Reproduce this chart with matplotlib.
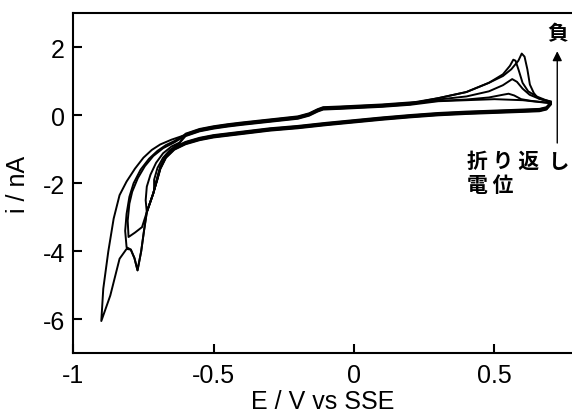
import numpy as np
import matplotlib.pyplot as plt

# フォント設定
plt.rcParams['font.family'] = ['Liberation Sans', 'DejaVu Sans']
plt.rcParams['axes.unicode_minus'] = False

# 1. データ (E / V vs SSE, i / nA) — 図から読み取った値
# ==========================================================
# 共通部分: 正側 0.70 V から負方向への掃引
cath_x = [0.70, 0.685, 0.66, 0.60, 0.50, 0.40, 0.30, 0.20, 0.10, 0.00, -0.10, -0.20,
          -0.30, -0.40, -0.50, -0.55, -0.60, -0.64, -0.67, -0.69, -0.70]
cath_y = [0.34, 0.20, 0.15, 0.13, 0.10, 0.07, 0.03, -0.03, -0.10, -0.18, -0.26, -0.35,
          -0.42, -0.52, -0.62, -0.70, -0.82, -0.98, -1.22, -1.55, -1.85]

# 共通部分: 正方向への掃引 (-0.60 V → 0.20 V)
an_x = [-0.60, -0.55, -0.50, -0.45, -0.40, -0.30, -0.20, -0.16, -0.13, -0.11, -0.05, 0.00, 0.10, 0.20]
an_y = [-0.58, -0.44, -0.36, -0.30, -0.25, -0.16, -0.07, 0.02, 0.14, 0.20, 0.22, 0.24, 0.28, 0.34]

# 各曲線の折り返し付近 (負側): 折り返しまで + 戻り
neg_x = [
    [-0.715, -0.738, -0.748, -0.758, -0.771, -0.782, -0.795, -0.81, -0.835, -0.868, -0.90,
     -0.893, -0.875, -0.856, -0.835, -0.81, -0.78, -0.75, -0.72, -0.69, -0.65],
    [-0.715, -0.738, -0.748, -0.758, -0.771, -0.782, -0.795, -0.81,
     -0.815, -0.81, -0.80, -0.785, -0.76, -0.73, -0.70, -0.67, -0.64],
    [-0.715, -0.738, -0.755, -0.78, -0.803,
     -0.806, -0.80, -0.79, -0.77, -0.745, -0.715, -0.68, -0.64],
    [-0.715, -0.738,
     -0.742, -0.738, -0.725, -0.705, -0.68, -0.65, -0.62],
    [-0.712,
     -0.712, -0.70, -0.68, -0.655, -0.625],
]
neg_y = [
    [-2.30, -2.85, -3.40, -4.00, -4.56, -4.20, -3.95, -3.93, -4.22, -5.30, -6.05,
     -5.10, -4.00, -3.04, -2.35, -1.95, -1.57, -1.25, -1.02, -0.86, -0.72],
    [-2.30, -2.85, -3.40, -4.00, -4.56, -4.20, -3.95, -3.88,
     -3.40, -2.90, -2.40, -2.00, -1.60, -1.28, -1.05, -0.88, -0.76],
    [-2.30, -2.85, -3.29, -3.45, -3.58,
     -3.10, -2.60, -2.25, -1.85, -1.50, -1.20, -0.97, -0.80],
    [-2.30, -2.85,
     -2.50, -2.10, -1.75, -1.40, -1.12, -0.92, -0.80],
    [-2.20,
     -1.90, -1.55, -1.25, -1.02, -0.85],
]

# 各曲線の酸化ピーク付近 (正側)
pos_x = [
    [0.30, 0.40, 0.48, 0.53, 0.56, 0.585, 0.597, 0.607, 0.617, 0.626, 0.64, 0.655, 0.68, 0.70],
    [0.30, 0.40, 0.48, 0.53, 0.555, 0.567, 0.575, 0.587, 0.60, 0.62, 0.65, 0.68, 0.70],
    [0.30, 0.40, 0.48, 0.53, 0.563, 0.58, 0.60, 0.625, 0.66, 0.70],
    [0.30, 0.40, 0.48, 0.53, 0.55, 0.57, 0.595, 0.63, 0.70],
    [0.30, 0.40, 0.50, 0.60, 0.70],
]
pos_y = [
    [0.50, 0.68, 0.95, 1.15, 1.35, 1.60, 1.81, 1.72, 1.35, 0.90, 0.65, 0.50, 0.44, 0.40],
    [0.50, 0.68, 0.95, 1.20, 1.45, 1.63, 1.60, 1.30, 0.95, 0.70, 0.55, 0.45, 0.40],
    [0.46, 0.55, 0.70, 0.88, 1.06, 0.98, 0.78, 0.60, 0.48, 0.38],
    [0.42, 0.46, 0.52, 0.60, 0.63, 0.58, 0.47, 0.42, 0.36],
    [0.41, 0.44, 0.47, 0.44, 0.35],
]

# 共通部分の曲線ごとのずれ (nA)
shift = [0.0, 0.02, -0.02, 0.035, -0.035]

# 2. 描画
# ==========================================================
fig = plt.figure(figsize=(5.72, 4.14), dpi=100)
ax = fig.add_axes([0.128, 0.144, 0.872, 0.822])

for k in range(5):
    x = np.concatenate([cath_x, neg_x[k], an_x, pos_x[k]])
    y = np.concatenate([np.array(cath_y) + shift[k], neg_y[k],
                        np.array(an_y) + shift[k], pos_y[k]])
    ax.plot(x, y, color='black', linewidth=1.4)

ax.set_xlim(-1, 0.776)
ax.set_ylim(-7, 3)
ax.set_xticks([-1, -0.5, 0, 0.5])
ax.set_xticklabels(['-1', '-0.5', '0', '0.5'])
ax.set_yticks([-6, -4, -2, 0, 2])
ax.set_yticklabels(['-6', '-4', '-2', '0', '2'])
ax.tick_params(direction='in', length=6.5, width=1.5, labelsize=18)
ax.tick_params(axis='x', pad=7)
ax.tick_params(axis='y', pad=6)
for side in ['left', 'bottom', 'top']:
    ax.spines[side].set_linewidth(1.5)
ax.spines['right'].set_visible(False)

ax.set_xlabel('E / V vs SSE', fontsize=18)
ax.set_ylabel('i / nA', fontsize=18)
ax.xaxis.set_label_coords(0.5, -0.105)
ax.yaxis.set_label_coords(-0.086, 0.5)

# 注記
jp = ['Noto Sans CJK JP', 'DejaVu Sans']
ax.annotate('', xy=(0.7235, 1.96), xytext=(0.7235, -0.90),
            arrowprops=dict(arrowstyle='-|>', color='black', lw=1.0,
                            mutation_scale=14))
ax.text(0.726, 2.43, '負', family=jp, fontweight='bold', fontsize=15,
        ha='center', va='center', clip_on=False)
ax.text(0.401, -1.34, '折 り 返  し', family=jp, fontweight='bold', fontsize=15,
        ha='left', va='center', clip_on=False)
ax.text(0.401, -2.04, '電 位', family=jp, fontweight='bold', fontsize=15,
        ha='left', va='center', clip_on=False)

plt.savefig('out.png', dpi=100)
